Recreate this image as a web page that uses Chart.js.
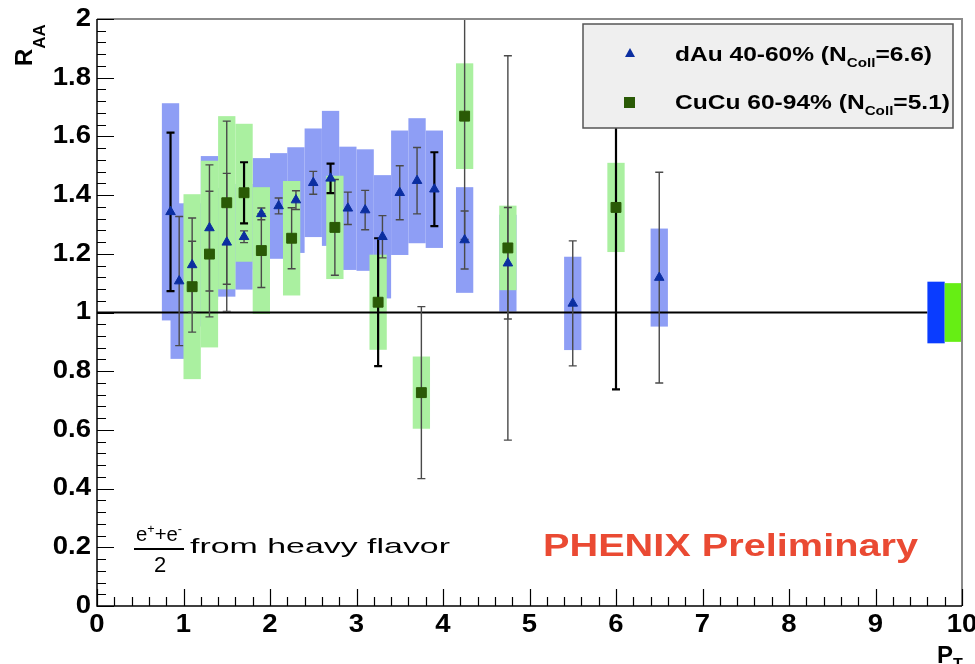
<!DOCTYPE html>
<html>
<head>
<meta charset="utf-8">
<script src="https://cdn.jsdelivr.net/npm/chart.js@4.4.1/dist/chart.umd.min.js"></script>
<style>
  html, body { margin: 0; padding: 0; background: #fff; }
  canvas { display: block; }
</style>
</head>
<body>
<canvas id="raa" width="975" height="664"></canvas>
<script>
// R_AA of heavy-flavour electrons, dAu 40-60% vs CuCu 60-94%, ROOT-style look.
const dAuPt   = [0.85, 0.95, 1.1, 1.3, 1.5, 1.7, 1.9, 2.1, 2.3, 2.5, 2.7, 2.9, 3.1, 3.3, 3.5, 3.7, 3.9, 4.25, 4.75, 5.5, 6.5];
const dAuRaa  = [1.343, 1.107, 1.162, 1.288, 1.239, 1.258, 1.336, 1.363, 1.383, 1.442, 1.457, 1.355, 1.349, 1.258, 1.408, 1.449, 1.420, 1.247, 1.168, 1.031, 1.119];
const dAuStat = [0.27, 0.22, 0.16, 0.215, 0.235, 0.02, 0.02, 0.027, 0.032, 0.039, 0.05, 0.055, 0.067, 0.072, 0.092, 0.113, 0.126, 0.099, 0.19, 0.213, 0.359];
const dAuSys  = [0.37, 0.265, 0.21, 0.245, 0.185, 0.18, 0.19, 0.18, 0.18, 0.185, 0.23, 0.21, 0.207, 0.21, 0.212, 0.213, 0.2, 0.18, 0.165, 0.159, 0.167];

const cuPt   = [1.1, 1.3, 1.5, 1.7, 1.9, 2.25, 2.75, 3.25, 3.75, 4.25, 4.75, 6.0];
const cuRaa  = [1.088, 1.199, 1.374, 1.408, 1.211, 1.253, 1.290, 1.035, 0.727, 1.669, 1.220, 1.358];
const cuStat = [0.155, 0.214, 0.278, 0.104, 0.126, 0.104, 0.163, 0.218, 0.293, 0.42, 0.655, 0.62];
const cuSys  = [0.315, 0.318, 0.295, 0.235, 0.216, 0.195, 0.176, 0.162, 0.123, 0.18, 0.144, 0.152];

// global normalisation uncertainties (boxes at the right edge)
const dAuNorm = 0.105;
const cuNorm = 0.1;

const xTicks = [0, 1, 2, 3, 4, 5, 6, 7, 8, 9, 10];
const yTicks = [0, 0.2, 0.4, 0.6, 0.8, 1, 1.2, 1.4, 1.6, 1.8, 2];
const yTickLabels = ['0', '0.2', '0.4', '0.6', '0.8', '1', '1.2', '1.4', '1.6', '1.8', '2'];

const dAuLegend = ['dAu 40-60% (N', 'Coll', '=6.6)'];
const cuLegend = ['CuCu 60-94% (N', 'Coll', '=5.1)'];

const FONT = "'Liberation Sans', Arial, Helvetica, sans-serif";
const BLUE_BAND = '#8e9ef5';
const GREEN_BAND = '#aaf0a0';
const BLUE_MARK = '#0b2ea0';
const GREEN_MARK = '#2a5a06';
// error bars that come out heavier in the original raster
const HEAVY_DAU = [0, 10, 16];
const HEAVY_CU = [3, 7, 11];

function rect(ctx, xs, ys, x0, x1, y0, y1, color) {
  const l = xs.getPixelForValue(x0), r = xs.getPixelForValue(x1);
  const t = ys.getPixelForValue(y1), b = ys.getPixelForValue(y0);
  ctx.fillStyle = color;
  ctx.fillRect(l, t, r - l, b - t);
}

function errBars(ctx, xs, ys, pts, vals, errs, heavy) {
  const area = ys.chart.chartArea;
  pts.forEach((p, i) => {
    const strong = heavy.includes(i);
    ctx.strokeStyle = strong ? '#000' : '#4a4a4a';
    ctx.lineWidth = strong ? 2.2 : 1.4;
    const x = xs.getPixelForValue(p);
    const hi = ys.getPixelForValue(vals[i] + errs[i]);
    const lo = ys.getPixelForValue(vals[i] - errs[i]);
    ctx.beginPath();
    ctx.moveTo(x, Math.max(hi, area.top));
    ctx.lineTo(x, Math.min(lo, area.bottom));
    [hi, lo].forEach((y) => {
      if (y > area.top && y < area.bottom) {
        ctx.moveTo(x - 4, y);
        ctx.lineTo(x + 4, y);
      }
    });
    ctx.stroke();
  });
}

// draws text pieces (with sub/superscripts) squeezed or stretched to a target width
function richText(ctx, parts, x, y, width, weight) {
  let natural = 0;
  parts.forEach((p) => {
    ctx.font = `${weight} ${p.size}px ${FONT}`;
    natural += ctx.measureText(p.t).width;
  });
  const sx = width / natural;
  ctx.save();
  ctx.translate(x, y);
  ctx.scale(sx, 1);
  let cx = 0;
  parts.forEach((p) => {
    ctx.font = `${weight} ${p.size}px ${FONT}`;
    ctx.fillText(p.t, cx, p.dy || 0);
    cx += ctx.measureText(p.t).width;
  });
  ctx.restore();
}

// tick label, widened a little like the ROOT bitmap font
function wideLabel(ctx, text, x, y, align) {
  const sx = 1.1;
  const w = ctx.measureText(text).width * sx;
  const left = align === 'right' ? x - w : align === 'center' ? x - w / 2 : x;
  ctx.save();
  ctx.translate(left, y);
  ctx.scale(sx, 1);
  ctx.textAlign = 'left';
  ctx.fillText(text, 0, 0);
  ctx.restore();
}

const backdrop = {
  id: 'backdrop',
  beforeDatasetsDraw(chart) {
    const { ctx, scales: { x, y } } = chart;
    ctx.save();
    dAuPt.forEach((p, i) => rect(ctx, x, y, p - 0.1, p + 0.1, dAuRaa[i] - dAuSys[i], dAuRaa[i] + dAuSys[i], BLUE_BAND));
    cuPt.forEach((p, i) => rect(ctx, x, y, p - 0.1, p + 0.1, cuRaa[i] - cuSys[i], cuRaa[i] + cuSys[i], GREEN_BAND));

    // unity line
    ctx.strokeStyle = '#000';
    ctx.lineWidth = 2;
    ctx.beginPath();
    ctx.moveTo(x.getPixelForValue(0), y.getPixelForValue(1));
    ctx.lineTo(x.getPixelForValue(9.6), y.getPixelForValue(1));
    ctx.stroke();

    rect(ctx, x, y, 9.6, 9.8, 1 - dAuNorm, 1 + dAuNorm, '#0a3cff');
    rect(ctx, x, y, 9.8, 10, 1 - cuNorm, 1 + cuNorm, '#66ee14');

    errBars(ctx, x, y, dAuPt, dAuRaa, dAuStat, HEAVY_DAU);
    errBars(ctx, x, y, cuPt, cuRaa, cuStat, HEAVY_CU);
    ctx.restore();
  },
  afterDraw(chart) {
    const { ctx, chartArea: a, scales: { x, y } } = chart;
    ctx.save();

    // frame
    ctx.strokeStyle = '#8a8a8a';
    ctx.lineWidth = 2;
    ctx.beginPath();
    ctx.moveTo(a.left, a.top); ctx.lineTo(a.right, a.top); ctx.lineTo(a.right, a.bottom);
    ctx.stroke();
    ctx.strokeStyle = '#000';
    ctx.lineWidth = 1.5;
    ctx.beginPath();
    ctx.moveTo(a.left, a.top); ctx.lineTo(a.left, a.bottom); ctx.lineTo(a.right, a.bottom);
    ctx.stroke();

    // inward ticks, ROOT style
    ctx.lineWidth = 1.2;
    ctx.beginPath();
    for (let k = 0; k <= 50; k++) {
      const px = Math.round(x.getPixelForValue(k * 0.2)) + 0.5;
      const len = k % 5 === 0 ? 17 : 9;
      ctx.moveTo(px, a.bottom); ctx.lineTo(px, a.bottom - len);
    }
    for (let k = 0; k <= 50; k++) {
      const py = Math.round(y.getPixelForValue(k * 0.04)) + 0.5;
      const len = k % 5 === 0 ? 17 : 9;
      ctx.moveTo(a.left, py); ctx.lineTo(a.left + len, py);
    }
    ctx.stroke();

    ctx.fillStyle = '#000';
    ctx.font = `bold 25px ${FONT}`;
    ctx.textBaseline = 'alphabetic';
    xTicks.forEach((v) => wideLabel(ctx, String(v), x.getPixelForValue(v), 632, 'center'));
    ctx.textBaseline = 'middle';
    yTicks.forEach((v, i) => wideLabel(ctx, yTickLabels[i], 91, y.getPixelForValue(v), 'right'));

    // axis titles
    ctx.textAlign = 'left';
    ctx.textBaseline = 'alphabetic';
    ctx.save();
    ctx.translate(32, 66);
    ctx.rotate(-Math.PI / 2);
    ctx.font = `bold 24px ${FONT}`;
    ctx.fillText('R', 0, 0);
    const rw = ctx.measureText('R').width;
    ctx.font = `bold 17px ${FONT}`;
    ctx.fillText('AA', rw, 13);
    ctx.restore();

    ctx.font = `bold 24px ${FONT}`;
    ctx.fillText('P', 937, 663);
    ctx.font = `bold 16px ${FONT}`;
    ctx.fillText('T', 953, 670);

    // legend box
    ctx.fillStyle = '#efefef';
    ctx.fillRect(583, 24, 370, 104);
    ctx.strokeStyle = '#555';
    ctx.lineWidth = 1.5;
    ctx.strokeRect(583, 24, 370, 104);
    ctx.fillStyle = BLUE_MARK;
    ctx.beginPath();
    ctx.moveTo(630, 48); ctx.lineTo(635, 57); ctx.lineTo(625, 57); ctx.closePath();
    ctx.fill();
    ctx.fillStyle = GREEN_MARK;
    ctx.fillRect(624, 97, 11, 11);

    ctx.fillStyle = '#000';
    richText(ctx, [{ t: dAuLegend[0], size: 21 }, { t: dAuLegend[1], size: 13, dy: 6 }, { t: dAuLegend[2], size: 21 }], 675, 61, 257, 'bold');
    richText(ctx, [{ t: cuLegend[0], size: 21 }, { t: cuLegend[1], size: 13, dy: 6 }, { t: cuLegend[2], size: 21 }], 675, 109, 275, 'bold');

    // e+e- annotation
    richText(ctx, [{ t: 'e', size: 21 }, { t: '+', size: 13, dy: -8 }, { t: '+', size: 21 }, { t: 'e', size: 21 }, { t: '-', size: 13, dy: -8 }], 136, 541, 46, 'normal');
    ctx.fillRect(134, 548, 50, 2);
    ctx.font = `normal 22px ${FONT}`;
    ctx.textAlign = 'center';
    ctx.fillText('2', 160, 572);
    ctx.textAlign = 'left';
    richText(ctx, [{ t: 'from heavy flavor', size: 21 }], 190, 553, 260, 'normal');

    ctx.fillStyle = '#ea4a33';
    richText(ctx, [{ t: 'PHENIX Preliminary', size: 32 }], 543, 556, 375, 'bold');
    ctx.restore();
  },
};

new Chart(document.getElementById('raa'), {
  type: 'scatter',
  data: {
    datasets: [
      {
        label: 'dAu 40-60%',
        data: dAuPt.map((p, i) => ({ x: p, y: dAuRaa[i] })),
        pointStyle: 'triangle', pointRadius: 5.5, borderWidth: 1,
        backgroundColor: BLUE_MARK, borderColor: BLUE_MARK,
      },
      {
        label: 'CuCu 60-94%',
        data: cuPt.map((p, i) => ({ x: p, y: cuRaa[i] })),
        pointStyle: 'rect', pointRadius: 7, borderWidth: 1,
        backgroundColor: GREEN_MARK, borderColor: GREEN_MARK,
      },
    ],
  },
  options: {
    responsive: false,
    animation: false,
    events: [],
    layout: { padding: { left: 97, top: 19, right: 13, bottom: 58 } },
    scales: {
      x: { type: 'linear', min: 0, max: 10, display: false },
      y: { type: 'linear', min: 0, max: 2, display: false },
    },
    plugins: { legend: { display: false }, tooltip: { enabled: false } },
  },
  plugins: [backdrop],
});
</script>
</body>
</html>
